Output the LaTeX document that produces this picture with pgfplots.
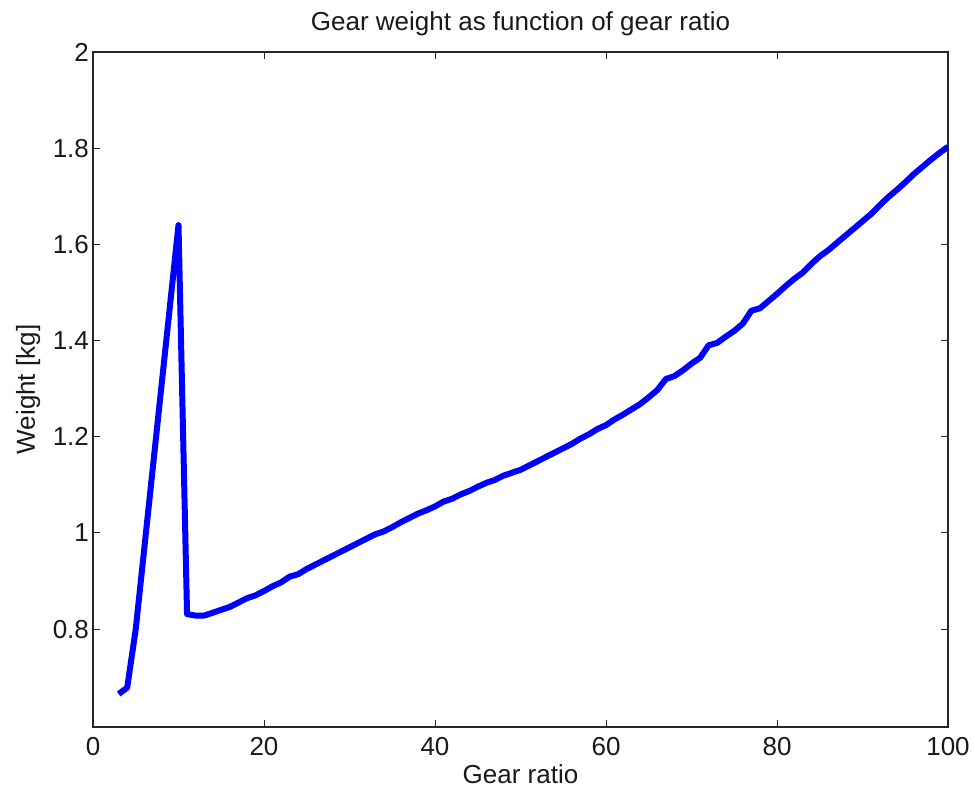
\documentclass[border=0pt]{standalone}
\usepackage{pgfplots}
\pgfplotsset{compat=1.18}
\usepackage{fontspec}
\setmainfont{Liberation Sans}
\begin{document}
\begin{tikzpicture}
\begin{axis}[
  width=427.5pt, height=337.5pt, scale only axis,
  xmin=0, xmax=100, ymin=0.5963, ymax=2,
  xtick={0,20,40,60,80,100},
  ytick={0.8,1,1.2,1.4,1.6,1.8,2},
  yticklabels={0.8,1,1.2,1.4,1.6,1.8,2},
  xticklabels={0,20,40,60,80,100},
  tick align=inside,
  major tick length=3.5pt,
  axis line style={line width=0.6pt, black!85},
  every tick/.style={line width=0.5pt, black!85},
  tick label style={font=\fontsize{13}{15.6}\selectfont, black!90},
  label style={font=\fontsize{13}{15.6}\selectfont, black!90},
  title={Gear weight as function of gear ratio},
  xlabel={Gear ratio},
  ylabel={Weight [kg]},
  xlabel style={at={(rel axis cs:0.5,0)}, anchor=base, yshift=-28pt},
  ylabel style={at={(rel axis cs:0,0.5)}, anchor=base, yshift=29pt},
  title style={font=\fontsize{13}{15.6}\selectfont, black!90, at={(rel axis cs:0.5,1)}, anchor=base, yshift=4.5pt},
  xticklabel style={yshift=-1.5pt},
  yticklabel style={xshift=1.5pt},
  clip=true,
]
\coordinate (SW) at (rel axis cs:0,0);
\coordinate (NE) at (rel axis cs:1,1);
\addplot[color={rgb,255:red,0;green,0;blue,255}, line width=3pt, line join=round, line cap=butt] coordinates {
(3,0.665) (4,0.678) (5,0.800) (6,0.968) (7,1.136) (8,1.304) (9,1.472) (10,1.640)
(11,0.831) (12,0.828) (13,0.828) (14,0.834) (15,0.840) (16,0.846) (17,0.855) (18,0.864)
(19,0.870) (20,0.879) (21,0.889) (22,0.897) (23,0.909) (24,0.914) (25,0.925) (26,0.934)
(27,0.943) (28,0.952) (29,0.961) (30,0.970) (31,0.979) (32,0.988) (33,0.997) (34,1.003)
(35,1.012) (36,1.022) (37,1.031) (38,1.040) (39,1.047) (40,1.055) (41,1.065) (42,1.071)
(43,1.080) (44,1.087) (45,1.096) (46,1.104) (47,1.110) (48,1.119) (49,1.125) (50,1.131)
(51,1.140) (52,1.149) (53,1.158) (54,1.167) (55,1.176) (56,1.185) (57,1.196) (58,1.205)
(59,1.216) (60,1.224) (61,1.236) (62,1.246) (63,1.257) (64,1.268) (65,1.282) (66,1.297)
(67,1.320) (68,1.326) (69,1.338) (70,1.352) (71,1.364) (72,1.390) (73,1.395) (74,1.408)
(75,1.420) (76,1.435) (77,1.462) (78,1.467) (79,1.482) (80,1.497) (81,1.513) (82,1.528)
(83,1.541) (84,1.559) (85,1.575) (86,1.588) (87,1.603) (88,1.618) (89,1.633) (90,1.648)
(91,1.663) (92,1.681) (93,1.698) (94,1.713) (95,1.729) (96,1.746) (97,1.761) (98,1.776)
(99,1.790) (100,1.803)
};
\end{axis}
\pgfresetboundingbox
\path[use as bounding box] ([xshift=-46.5pt,yshift=-31pt]SW) rectangle ([xshift=13pt,yshift=26pt]NE);
\end{tikzpicture}
\end{document}
